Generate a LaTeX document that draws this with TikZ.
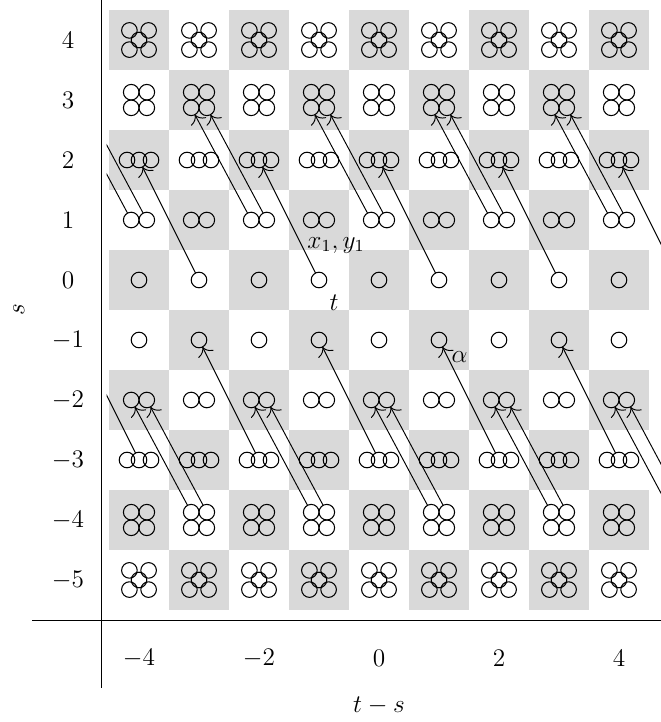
\documentclass[tikz,border=0pt]{standalone}
\usetikzlibrary{arrows.meta}
\begin{document}
\begin{tikzpicture}[x=1cm,y=1cm,
  cell/.style={fill=gray!30, draw=none},
  ring/.style={circle, draw, line width=0.5pt, minimum size=0.26cm, inner sep=0pt, outer sep=0pt},
  conn/.style={-{To[scale=1.5]}, line width=0.45pt},
  axis/.style={line width=0.5pt},
  lbl/.style={font=\large}
]
\useasboundingbox (-6.317,-7.367) rectangle (4.7,4.667);

% checkerboard cells
\foreach \s in {-5,...,4}{
  \foreach \c in {-4,...,4}{
    \pgfmathtruncatemacro{\parity}{mod(\s+\c+100,2)}
    \ifnum\parity=0
      \fill[cell] (\c-0.492,\s-0.492) rectangle (\c+0.492,\s+0.492);
    \fi
  }
}

% five circles (rows 4 and -5)
\foreach \s in {4,-5}{
  \foreach \c in {-4,...,4}{
    \node[ring] (r\s-c\c-k1) at (\c-0.16,\s+0.16) {};
    \node[ring] (r\s-c\c-k2) at (\c+0.16,\s+0.16) {};
    \node[ring] (r\s-c\c-k3) at (\c-0.16,\s-0.16) {};
    \node[ring] (r\s-c\c-k4) at (\c+0.16,\s-0.16) {};
    \node[ring] (r\s-c\c-k5) at (\c,\s) {};
  }
}
% four circles 2x2 (rows 3 and -4)
\foreach \s in {3,-4}{
  \foreach \c in {-4,...,4}{
    \node[ring] (r\s-c\c-k1) at (\c-0.13,\s+0.13) {};
    \node[ring] (r\s-c\c-k2) at (\c+0.13,\s+0.13) {};
    \node[ring] (r\s-c\c-k3) at (\c-0.13,\s-0.13) {};
    \node[ring] (r\s-c\c-k4) at (\c+0.13,\s-0.13) {};
  }
}
% three circles (rows 2 and -3)
\foreach \s in {2,-3}{
  \foreach \c in {-4,...,4}{
    \node[ring] (r\s-c\c-k1) at (\c-0.2,\s) {};
    \node[ring] (r\s-c\c-k2) at (\c,\s) {};
    \node[ring] (r\s-c\c-k3) at (\c+0.2,\s) {};
  }
}
% two circles (rows 1 and -2)
\foreach \s in {1,-2}{
  \foreach \c in {-4,...,4}{
    \node[ring] (r\s-c\c-k1) at (\c-0.13,\s) {};
    \node[ring] (r\s-c\c-k2) at (\c+0.13,\s) {};
  }
}
% one circle (rows 0 and -1)
\foreach \s in {0,-1}{
  \foreach \c in {-4,...,4}{
    \node[ring] (r\s-c\c-k1) at (\c,\s) {};
  }
}

% positions outside the grid
\coordinate (r0-c5-k1) at (5,0);
\coordinate (r3-c-5-k3) at (-5.13,2.87);
\coordinate (r3-c-5-k4) at (-4.87,2.87);
\coordinate (r-1-c-5-k1) at (-5,-1);
\coordinate (r-4-c5-k1) at (4.87,-3.87);
\coordinate (r-4-c5-k2) at (5.13,-3.87);

% connectors
\begin{scope}
\clip (-4.54,-7.367) rectangle (4.7,4.667);
\foreach \c in {-3,-1,1,3,5}{
  \pgfmathtruncatemacro{\d}{\c-1}
  \draw[conn] (r0-c\c-k1) -- (r2-c\d-k2);
  \draw[conn] (r-4-c\c-k1) -- (r-2-c\d-k1);
  \draw[conn] (r-4-c\c-k2) -- (r-2-c\d-k2);
}
\foreach \c in {-4,-2,0,2,4}{
  \pgfmathtruncatemacro{\d}{\c-1}
  \draw[conn] (r1-c\c-k1) -- (r3-c\d-k3);
  \draw[conn] (r1-c\c-k2) -- (r3-c\d-k4);
  \draw[conn] (r-3-c\c-k2) -- (r-1-c\d-k1);
}
\end{scope}

% axes
\coordinate (ytop) at (-4.633,4.667);
\coordinate (ybot) at (-4.633,-6.8);
\coordinate (xl) at (-5.783,-5.683);
\coordinate (xr) at (4.7,-5.683);
\draw[axis] (ytop) -- (ybot);
\draw[axis] (xl) -- (xr);

% tick labels
\foreach \s in {-5,...,4}{
  \node[lbl] (ls\s) at (-5.183,\s) {$\s$};
}
\foreach \c in {-4,-2,0,2}{
  \node[lbl] (lc\c) at (\c,-6.3) {$\c$};
}
\node[lbl] (lc4) at (4,-6.3) {$4$};

% axis labels
\node[lbl, rotate=90] (slab) at (-6.0,-0.5) {$s$};
\node[lbl] (tslab) at (0,-7.1) {$t-s$};

% annotations
\node[lbl, anchor=base west, inner sep=0pt] (lx) at (-1.2,0.53) {$x_1,y_1$};
\node[lbl, anchor=base, inner sep=0pt] (lt) at (-0.75,-0.5) {$t$};
\node[lbl, anchor=base, inner sep=0pt] (la) at (1.342,-1.383) {$\alpha$};
\end{tikzpicture}
\end{document}
